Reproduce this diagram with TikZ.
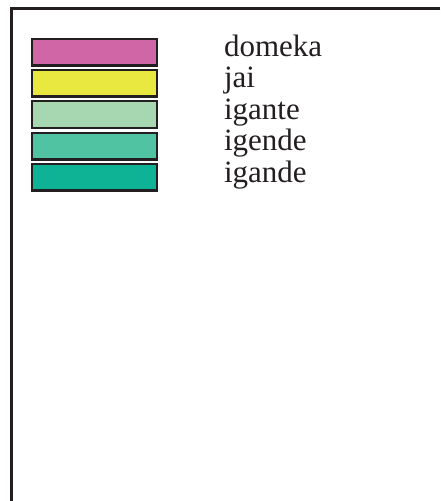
\documentclass[tikz,border=0pt]{standalone}
\usepackage{fontspec}
\setmainfont{Liberation Serif}
\definecolor{framec}{HTML}{231F20}
\definecolor{cpink}{HTML}{D066A6}
\definecolor{cyellow}{HTML}{E8E840}
\definecolor{clgreen}{HTML}{A6D7B0}
\definecolor{cmgreen}{HTML}{50C3A3}
\definecolor{cteal}{HTML}{0EB294}
\begin{document}
\begin{tikzpicture}[x=1pt,y=-1pt,
  swatch/.style={draw=framec,line width=2.4pt,minimum width=124.6pt,minimum height=26.6pt,inner sep=0pt,outer sep=0pt},
  lbl/.style={anchor=base west,inner sep=0pt,outer sep=0pt,text=framec,font=\fontsize{31}{31}\selectfont}]
\useasboundingbox (0,0) rectangle (440,501);
\draw[framec,line width=3pt] (440,8) -- (11,8) -- (11,501);
\node[swatch,fill=cpink]   (s1) at (94.5,52) {};
\node[swatch,fill=cyellow] (s2) at (94.5,83) {};
\node[swatch,fill=clgreen] (s3) at (94.5,114.5) {};
\node[swatch,fill=cmgreen] (s4) at (94.5,146) {};
\node[swatch,fill=cteal]   (s5) at (94.5,177) {};
\node[lbl] (t1) at (224,56) {domeka};
\node[lbl] (t2) at (224,87.5) {jai};
\node[lbl] (t3) at (224,119) {igante};
\node[lbl] (t4) at (224,150.5) {igende};
\node[lbl] (t5) at (224,182) {igande};
\end{tikzpicture}
\end{document}
